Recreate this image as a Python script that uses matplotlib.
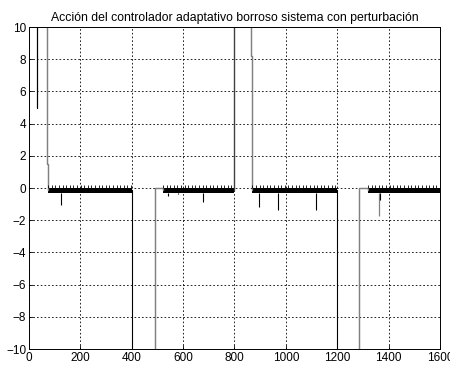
import numpy as np
import matplotlib
matplotlib.use('Agg')
import matplotlib.pyplot as plt

plt.rcParams['font.family'] = ['Liberation Sans', 'DejaVu Sans']

# coarse envelope of the control signal (time, value); values beyond +-10 are clipped by the axes
sig_t = [0, 30, 30, 30, 69, 69, 75, 75, 400, 400, 490, 490, 522, 522,
         800, 800, 866, 866, 870, 870, 1200, 1200, 1285, 1285, 1320, 1320, 1600]
sig_u = [12, 12, 5, 12, 12, 1.5, 1.5, -0.1, -0.1, -12, -12, 0, 0, -0.1,
         -0.1, 12, 12, 8.2, 8.2, -0.1, -0.1, -12, -12, 0, 0, -0.1, -0.1]

# stretches drawn in grey
gray_windows = [(69, 75), (490, 522), (866, 870), (1285, 1320)]
dark_windows = [(800, 800)]

# dense chattering bands around zero
band_start = [75, 522, 870, 1320]
band_end = [400, 800, 1200, 1600]
band_lo = -0.28
band_hi = 0.02
chatter_top = 0.16
chatter_step = 14

# downward spikes inside the bands
spike_t = [123, 540, 579, 679, 897, 971, 1117, 1368]
spike_u = [-1.06, -0.5, -0.4, -0.85, -1.15, -1.35, -1.35, -0.75]
gspike_t = [1364]
gspike_u = [-1.75]

xticks = np.arange(0, 1601, 200)
yticks = np.arange(-10, 11, 2)

fig = plt.figure(figsize=(4.5, 3.69), dpi=100)
ax = fig.add_axes([0.0644, 0.0542, 0.9134, 0.8726])

sig_t = np.array(sig_t)
sig_u = np.array(sig_u)
ax.plot(sig_t, sig_u, color='k', lw=0.8)
for a, b in gray_windows:
    m = (sig_t >= a) & (sig_t <= b)
    ax.plot(sig_t[m], sig_u[m], color='#808080', lw=0.9)
for a, b in dark_windows:
    m = (sig_t >= a) & (sig_t <= b)
    ax.plot(sig_t[m], sig_u[m], color='#404040', lw=0.9)

for s, e in zip(band_start, band_end):
    ax.fill_between([s, e], band_lo, band_hi, color='k', lw=0)
    ax.vlines(np.arange(s, e, chatter_step), band_hi, chatter_top, color='k', lw=0.6)

ax.vlines(gspike_t, band_lo, gspike_u, color='#808080', lw=0.9)
ax.vlines(spike_t, band_lo, spike_u, color='k', lw=0.8)

ax.set_xlim(0, 1600)
ax.set_ylim(-10, 10)
ax.set_xticks(xticks)
ax.set_yticks(yticks)
ax.tick_params(direction='in', length=3, labelsize=8.5, pad=2, width=0.6)
ax.grid(True, color='k', linestyle=(0, (2, 2.5)), lw=0.6)
for sp in ax.spines.values():
    sp.set_linewidth(0.7)
ax.set_title('Acción del controlador adaptativo borroso sistema con perturbación', fontsize=8.8, pad=4)

fig.savefig('out.png', dpi=100)
